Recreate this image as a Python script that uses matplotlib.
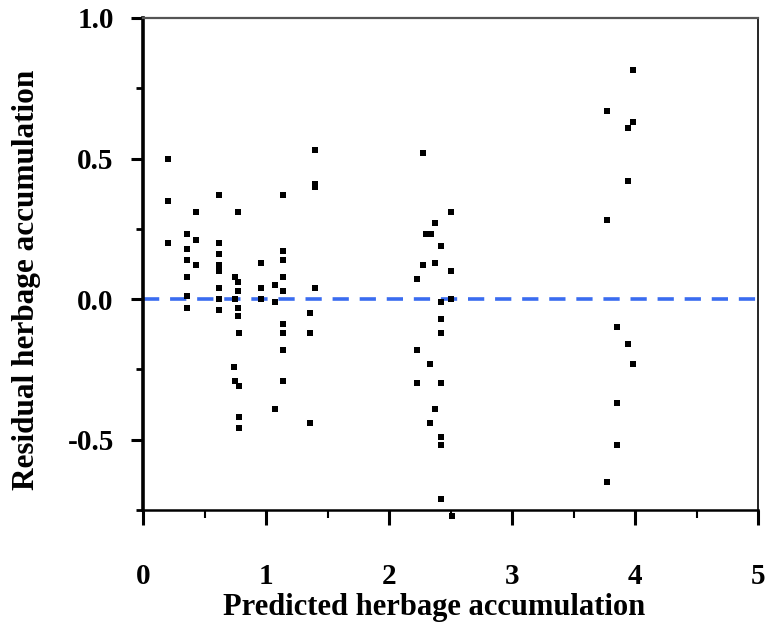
import numpy as np
import matplotlib
matplotlib.use('Agg')
import matplotlib.pyplot as plt
from matplotlib.ticker import FixedLocator, FixedFormatter

# predicted vs residual herbage accumulation
pred = [0.20, 0.20, 0.20,
        0.36, 0.36, 0.36, 0.36, 0.36, 0.36,
        0.43, 0.43, 0.43,
        0.62, 0.62, 0.62, 0.62, 0.62, 0.62, 0.62, 0.62,
        0.77, 0.75, 0.77, 0.77, 0.75, 0.77, 0.77, 0.78, 0.74, 0.75, 0.78, 0.78, 0.78,
        0.96, 0.96, 0.96,
        1.07, 1.07, 1.07,
        1.14, 1.14, 1.14, 1.14, 1.14, 1.14, 1.14, 1.14, 1.14,
        1.40, 1.40, 1.40, 1.40, 1.36, 1.36, 1.36,
        2.28, 2.50, 2.37, 2.30, 2.34, 2.42, 2.28, 2.37, 2.50, 2.23, 2.50, 2.42,
        2.42, 2.42, 2.23, 2.33, 2.23, 2.42, 2.37, 2.33, 2.42, 2.42, 2.42, 2.51,
        3.98, 3.77, 3.98, 3.94, 3.94, 3.77, 3.85, 3.94, 3.98, 3.85, 3.85, 3.77]
resid = [0.50, 0.35, 0.20,
         0.23, 0.18, 0.14, 0.08, 0.01, -0.03,
         0.31, 0.21, 0.12,
         0.37, 0.20, 0.16, 0.12, 0.10, 0.04, 0.00, -0.04,
         0.31, 0.08, 0.06, 0.03, 0.00, -0.03, -0.06, -0.12, -0.24, -0.29, -0.31, -0.42, -0.46,
         0.13, 0.04, 0.00,
         0.05, -0.01, -0.39,
         0.37, 0.17, 0.14, 0.08, 0.03, -0.09, -0.12, -0.18, -0.29,
         0.53, 0.41, 0.40, 0.04, -0.05, -0.12, -0.44,
         0.52, 0.31, 0.27, 0.23, 0.23, 0.19, 0.12, 0.13, 0.10, 0.07, 0.00, -0.01,
         -0.07, -0.12, -0.18, -0.23, -0.30, -0.30, -0.39, -0.44, -0.49, -0.52, -0.71, -0.77,
         0.815, 0.67, 0.63, 0.61, 0.42, 0.28, -0.10, -0.16, -0.23, -0.37, -0.52, -0.65]

x_ticks = [0, 1, 2, 3, 4, 5]
x_labels = ['0', '1', '2', '3', '4', '5']
y_ticks = [-0.5, 0.0, 0.5, 1.0]
y_labels = ['-0.5', '0.0', '0.5', '1.0']

font = ['Liberation Serif', 'DejaVu Serif']
plt.rcParams['font.family'] = font
plt.rcParams['font.weight'] = 'bold'

fig = plt.figure(figsize=(7.65, 6.27), dpi=100)
ax = fig.add_axes([143 / 765, 1 - 510 / 627, 615 / 765, 492 / 627])

ax.axhline(0, color='#3a6cf0', lw=2.6, ls=(0, (4.5, 3)), zorder=1)
ax.plot(pred, resid, 's', color='black', ms=5, mew=0, zorder=3, clip_on=False)

ax.set_xlim(0, 5)
ax.set_ylim(-0.75, 1.0)

ax.xaxis.set_major_locator(FixedLocator(x_ticks))
ax.xaxis.set_major_formatter(FixedFormatter(x_labels))
ax.xaxis.set_minor_locator(FixedLocator([0.5, 1.5, 2.5, 3.5, 4.5]))
ax.yaxis.set_major_locator(FixedLocator(y_ticks))
ax.yaxis.set_major_formatter(FixedFormatter(y_labels))
ax.yaxis.set_minor_locator(FixedLocator([-0.75, -0.25, 0.25, 0.75]))

ax.tick_params(axis='x', which='major', direction='out', length=11, width=2.2,
               pad=27, labelsize=21)
ax.tick_params(axis='x', which='minor', direction='out', length=6, width=1.5)
ax.tick_params(axis='y', which='major', direction='out', length=9, width=2.2,
               pad=12, labelsize=21)
ax.tick_params(axis='y', which='minor', direction='out', length=5, width=2)

ax.spines['left'].set_linewidth(2.6)
ax.spines['bottom'].set_linewidth(1.8)
ax.spines['right'].set_linewidth(1.2)
ax.spines['top'].set_linewidth(1.6)
ax.spines['top'].set_color('#555555')

fig.text(434 / 765, 1 - 607 / 627, 'Predicted herbage accumulation',
         ha='center', va='center', fontsize=22, fontweight='bold')
fig.text(27 / 765, 1 - 280 / 627, 'Residual herbage accumulation',
         ha='center', va='center', rotation=90, fontsize=22.5, fontweight='bold')

fig.savefig('out.png', dpi=100)
